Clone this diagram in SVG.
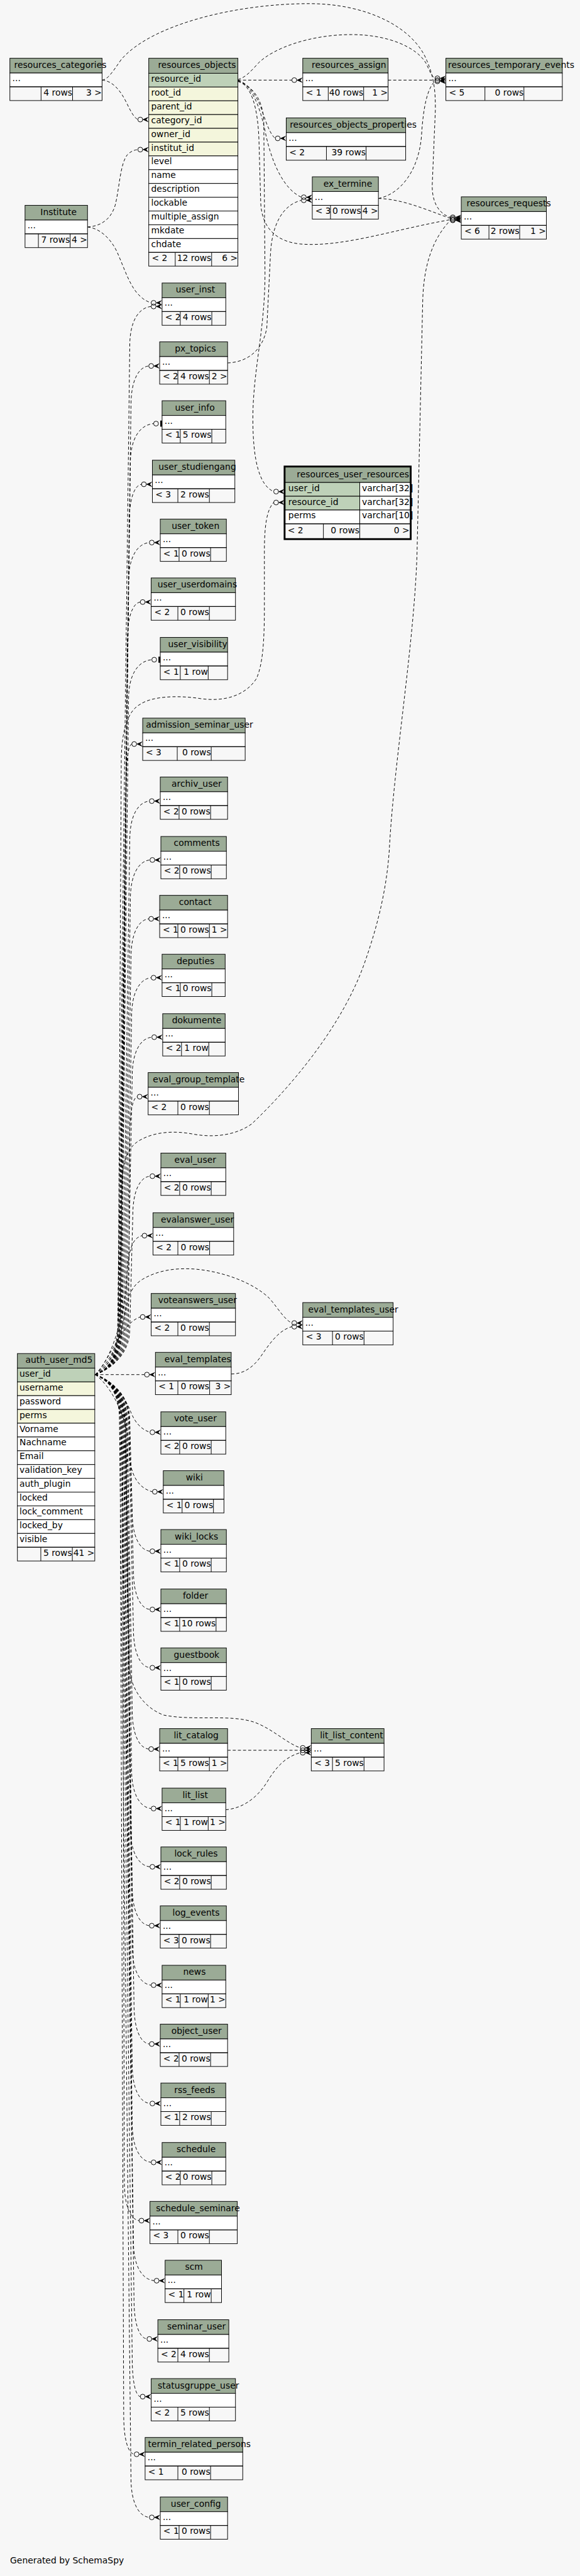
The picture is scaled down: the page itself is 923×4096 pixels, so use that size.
<svg xmlns="http://www.w3.org/2000/svg" width="923" height="4096" viewBox="0 0 923 4096">
<style>
text{font-family:"DejaVu Sans","Liberation Sans",sans-serif;font-size:14.4px;fill:#000}
.m{text-anchor:middle}.e{text-anchor:end}
.h{fill:#9bab96;stroke:#000;stroke-width:1}
.w{fill:#fff;stroke:#000;stroke-width:1}
.p{fill:#bed1b8;stroke:#000;stroke-width:1}
.k{fill:#f4f6dc;stroke:#000;stroke-width:1}
.f{fill:none;stroke:#000;stroke-width:1}
.c path{fill:none;stroke:#000;stroke-width:1;stroke-dasharray:5 3.5}
</style>
<defs>
<g id="cf"><circle cx="-14" cy="0" r="4" fill="none" stroke="#000"/><path d="M-10.5,0L0,-4.5L-4,0L0,4.5Z" fill="#000"/></g>
<g id="ct"><circle cx="-10" cy="0" r="4" fill="none" stroke="#000"/><rect x="-3" y="-5" width="3" height="10" fill="#000"/></g>
</defs>
<rect width="923" height="4096" fill="#f7f7f7"/>
<g transform="scale(0.965)">
<g id="connectors" class="c">
<path d="M168.3,132C185,133 198,148 208,168C215,182 220,193 227.3,197"/>
<path d="M168.3,132C178,131 186,118 200,98C250,40 390,6 510,6C605,6 682,45 704,100C716,128 718,150 718,180L713,300C711,330 722,352 742.7,358"/>
<path d="M144.3,374C162,373 182,365 190,338C197,310 198,270 210,255C216,249 222,247 227.3,246.5"/>
<path d="M144.3,374C164,376 182,392 193,415C205,442 214,472 230,487C237,494 243,497 249.3,499"/>
<path d="M392.3,132H481.3"/>
<path d="M640,132H717.3"/>
<path d="M392.3,131C405,128 415,116 426,104C450,80 510,57 580,57C640,57 688,78 703,105C709,118 712,126 717.3,129"/>
<path d="M392.3,133C410,136 425,160 433,185C440,205 446,222 454,228"/>
<path d="M392.3,133C412,137 428,170 438,220C448,268 468,312 497,325"/>
<path d="M375.3,598C405,597 433,580 440,540L446,420C448,372 465,338 497,330"/>
<path d="M392.3,134C414,140 425,175 427,230L430,335C432,375 455,398 495,402C565,408 650,378 742.7,362"/>
<path d="M392.3,134C415,142 433,160 435,200L437,450C437,545 417,610 417,690C417,760 428,800 451.3,810"/>
<path d="M624,327C660,320 690,282 695,225C698,175 705,145 717.3,134"/>
<path d="M624,327C662,328 700,344 742.7,360"/>
<path d="M157,2265C176,2255 196,2228 198,2180L201,1950C202,1905 215,1886 234,1877C255,1866 285,1862 320,1869C355,1875 390,1870 415,1852C470,1800 560,1700 600,1590C625,1520 638,1460 642,1400C650,1250 685,1050 688,900L697,500C698,440 712,395 742.7,363"/>
<path d="M157,2265C176,2256 193,2230 195,2180L200,1250C201,1200 212,1170 232,1160C250,1148 290,1145 330,1151C370,1157 405,1146 423,1118C433,1095 436,1060 436,1000L436,910C436,865 440,840 451.3,828"/>
<path d="M157,2265C178,2250 198,2210 205,2170C210,2135 218,2118 235,2108C260,2093 290,2089 320,2091C370,2095 420,2115 445,2140C460,2158 470,2175 481.3,2180"/>
<path d="M381.3,2264C400,2264 415,2255 428,2238C442,2218 458,2192 481.3,2186"/>
<path d="M157,2265H238.3"/>
<path d="M375.3,2884H495.3"/>
<path d="M372.3,2982C395,2980 420,2968 440,2937C455,2912 470,2895 495.3,2888"/>
<path d="M157,2265C178,2275 206,2300 207,2350L213,2745C215,2785 240,2815 270,2826C320,2836 380,2824 420,2838C450,2849 472,2872 495.3,2880"/>
<path d="M157,2265C182,2240 200,2180 231.3,2170"/>
<path d="M157,2265C185,2240 207,2160 209,2110C211,2060 218,2040 234.3,2036"/>
<path d="M157,2265C178,2258 214,2235 214,2190L219,2003C219,1963 230.3,1940 247.3,1938"/>
<path d="M157,2265C178,2258 212,2235 212,2190L214,1872C214,1832 219,1809 226.3,1807"/>
<path d="M157,2265C178,2258 210,2235 210,2190L218,1774C218,1734 230.9,1711 250.3,1709"/>
<path d="M157,2265C178,2258 208,2235 208,2190L217,1676C217,1636 229.9,1613 249.3,1611"/>
<path d="M157,2265C178,2258 206,2235 206,2190L216,1579C216,1539 227.7,1516 245.3,1514"/>
<path d="M157,2265C178,2258 204,2235 204,2190L215,1482C215,1442 227.9,1419 247.3,1417"/>
<path d="M157,2265C178,2258 202,2235 202,2190L214,1385C214,1345 226.9,1322 246.3,1320"/>
<path d="M157,2265C178,2258 201,2235 201,2190L208,1291C208,1251 211.7,1228 217.3,1226"/>
<path d="M157,2265C178,2258 200,2235 200,2190L212,1152C212,1112 227.3,1089 250.3,1087"/>
<path d="M157,2265C178,2258 199,2235 199,2190L210,1057C210,1017 218.5,994 231.3,992"/>
<path d="M157,2265C178,2258 198,2235 198,2190L212,959C212,919 225.7,896 246.3,894"/>
<path d="M157,2265C178,2258 197,2235 197,2190L213,863C213,823 221.1,800 233.3,798"/>
<path d="M157,2265C178,2258 196,2235 196,2190L215,763C215,723 230.3,700 253.3,698"/>
<path d="M157,2265C178,2258 195,2235 195,2190L216,668C216,628 227.7,605 245.3,603"/>
<path d="M157,2265C178,2258 194,2235 194,2190L214,570C214,530 228.1,507 249.3,505"/>
<path d="M157,2265C185,2275 205,2300 215,2325C222,2343 232,2355 247.3,2360"/>
<path d="M157,2265C185,2285 212,2340 213,2390C214,2430 228,2452 251.3,2458"/>
<path d="M157,2265C178,2272 214,2295 214,2340L218,2491C218,2531 229.7,2554 247.3,2556"/>
<path d="M157,2265C178,2272 213,2295 213,2340L220,2587C220,2627 230.9,2650 247.3,2652"/>
<path d="M157,2265C178,2272 212,2295 212,2340L220,2683C220,2723 230.9,2746 247.3,2748"/>
<path d="M157,2265C178,2272 210,2295 210,2340L218,2817C218,2857 228.9,2880 245.3,2882"/>
<path d="M157,2265C178,2272 209,2295 209,2340L217,2915C217,2955 229.9,2978 249.3,2980"/>
<path d="M157,2265C178,2272 208,2295 208,2340L215,3011C215,3051 227.9,3074 247.3,3076"/>
<path d="M157,2265C178,2272 207,2295 207,2340L218,3108C218,3148 229.3,3171 246.3,3173"/>
<path d="M157,2265C178,2272 206,2295 206,2340L218,3206C218,3246 230.5,3269 249.3,3271"/>
<path d="M157,2265C178,2272 205,2295 205,2340L221,3303C221,3343 231.1,3366 246.3,3368"/>
<path d="M157,2265C178,2272 204,2295 204,2340L218,3401C218,3441 229.7,3464 247.3,3466"/>
<path d="M157,2265C178,2272 203,2295 203,2340L218,3498C218,3538 230.5,3561 249.3,3563"/>
<path d="M157,2265C178,2272 202,2295 202,2340L205,3594C205,3634 214.7,3657 229.3,3659"/>
<path d="M157,2265C178,2272 201,2295 201,2340L220,3693C220,3733 233.7,3756 254.3,3758"/>
<path d="M157,2265C178,2272 200,2295 200,2340L221,3789C221,3829 229.5,3852 242.3,3854"/>
<path d="M157,2265C178,2272 199,2295 199,2340L218,3884C218,3924 223.3,3947 231.3,3949"/>
<path d="M157,2265C178,2272 198,2295 198,2340L204,3979C204,4019 210.9,4042 221.3,4044"/>
<path d="M157,2265C178,2272 197,2295 197,2340L216,4083C216,4123 228.1,4146 246.3,4148"/>
</g>

<g id="resources_categories"><rect class="h" x="16.3" y="96" width="152" height="24.3"/><rect class="w" x="16.3" y="120.3" width="152" height="22.7"/><rect class="f" x="16.3" y="143" width="152" height="22.7"/><path class="f" d="M67.7,143v22.7M119.7,143v22.7"/><text class="m" x="99.5" y="112">resources_categories</text><text x="20.3" y="133.8">...</text><text class="e" x="119.2" y="157.3">4 rows</text><text class="e" x="167.8" y="157.3">3 &gt;</text></g>

<g id="resources_objects"><rect class="h" x="245.3" y="96" width="147" height="24.7"/>
<rect class="p" x="245.3" y="120.7" width="147" height="22.7"/>
<rect class="k" x="245.3" y="143.4" width="147" height="22.7"/>
<rect class="k" x="245.3" y="166.1" width="147" height="22.7"/>
<rect class="k" x="245.3" y="188.8" width="147" height="22.7"/>
<rect class="k" x="245.3" y="211.5" width="147" height="22.7"/>
<rect class="k" x="245.3" y="234.2" width="147" height="22.7"/>
<rect class="w" x="245.3" y="256.9" width="147" height="22.7"/>
<rect class="w" x="245.3" y="279.6" width="147" height="22.7"/>
<rect class="w" x="245.3" y="302.3" width="147" height="22.7"/>
<rect class="w" x="245.3" y="325" width="147" height="22.7"/>
<rect class="w" x="245.3" y="347.7" width="147" height="22.7"/>
<rect class="w" x="245.3" y="370.4" width="147" height="22.7"/>
<rect class="w" x="245.3" y="393.1" width="147" height="22.7"/>
<rect class="f" x="245.3" y="415.8" width="147" height="22.7"/><path class="f" d="M289,415.8v22.7M349,415.8v22.7"/>
<text class="m" x="324.9" y="112">resources_objects</text>
<text x="249.3" y="134.7">resource_id</text><text x="249.3" y="157.4">root_id</text><text x="249.3" y="180.1">parent_id</text><text x="249.3" y="202.8">category_id</text><text x="249.3" y="225.5">owner_id</text><text x="249.3" y="248.2">institut_id</text><text x="249.3" y="270.9">level</text><text x="249.3" y="293.6">name</text><text x="249.3" y="316.3">description</text><text x="249.3" y="339">lockable</text><text x="249.3" y="361.7">multiple_assign</text><text x="249.3" y="384.4">mkdate</text><text x="249.3" y="407.1">chdate</text>
<text x="250.3" y="430.1">&lt; 2</text><text class="e" x="348.5" y="430.1">12 rows</text><text class="e" x="391.8" y="430.1">6 &gt;</text></g>

<g id="Institute"><rect class="h" x="41.3" y="338.3" width="103" height="24.3"/><rect class="w" x="41.3" y="362.6" width="103" height="22.7"/><rect class="f" x="41.3" y="385.3" width="103" height="22.7"/><path class="f" d="M63.3,385.3v22.7M115.7,385.3v22.7"/><text class="m" x="96.5" y="354.3">Institute</text><text x="45.3" y="376.1">...</text><text class="e" x="115.2" y="399.6">7 rows</text><text class="e" x="143.8" y="399.6">4 &gt;</text></g>

<g id="resources_assign"><rect class="h" x="499.3" y="96" width="140.7" height="24.3"/><rect class="w" x="499.3" y="120.3" width="140.7" height="22.7"/><rect class="f" x="499.3" y="143" width="140.7" height="22.7"/><path class="f" d="M541.3,143v22.7M599.7,143v22.7"/><text class="m" x="575.5" y="112">resources_assign</text><text x="503.3" y="133.8">...</text><text x="504.3" y="157.3">&lt; 1</text><text class="e" x="599.2" y="157.3">40 rows</text><text class="e" x="639.5" y="157.3">1 &gt;</text></g>

<g id="resources_temporary_events"><rect class="h" x="735.3" y="96" width="192" height="24.3"/><rect class="w" x="735.3" y="120.3" width="192" height="22.7"/><rect class="f" x="735.3" y="143" width="192" height="22.7"/><path class="f" d="M799.7,143v22.7M864,143v22.7"/><text class="m" x="843" y="112">resources_temporary_events</text><text x="739.3" y="133.8">...</text><text x="740.3" y="157.3">&lt; 5</text><text class="e" x="863.5" y="157.3">0 rows</text></g>

<g id="resources_objects_properties"><rect class="h" x="472" y="194.3" width="197" height="24.3"/><rect class="w" x="472" y="218.6" width="197" height="22.7"/><rect class="f" x="472" y="241.3" width="197" height="22.7"/><path class="f" d="M538.3,241.3v22.7M603.7,241.3v22.7"/><text class="m" x="582.5" y="210.3">resources_objects_properties</text><text x="476" y="232.1">...</text><text x="477" y="255.6">&lt; 2</text><text class="e" x="603.2" y="255.6">39 rows</text></g>

<g id="ex_termine"><rect class="h" x="515" y="291.3" width="109" height="24.3"/><rect class="w" x="515" y="315.6" width="109" height="22.7"/><rect class="f" x="515" y="338.3" width="109" height="22.7"/><path class="f" d="M545,338.3v22.7M596,338.3v22.7"/><text class="m" x="573.5" y="307.3">ex_termine</text><text x="519" y="329.1">...</text><text x="520" y="352.6">&lt; 3</text><text class="e" x="595.5" y="352.6">0 rows</text><text class="e" x="623.5" y="352.6">4 &gt;</text></g>

<g id="resources_requests"><rect class="h" x="760.7" y="324.3" width="140.3" height="24.3"/><rect class="w" x="760.7" y="348.6" width="140.3" height="22.7"/><rect class="f" x="760.7" y="371.3" width="140.3" height="22.7"/><path class="f" d="M806.3,371.3v22.7M857,371.3v22.7"/><text class="m" x="839" y="340.3">resources_requests</text><text x="764.7" y="362.1">...</text><text x="765.7" y="385.6">&lt; 6</text><text class="e" x="856.5" y="385.6">2 rows</text><text class="e" x="900.5" y="385.6">1 &gt;</text></g>

<g id="user_inst"><rect class="h" x="267.3" y="466.3" width="105" height="24.3"/><rect class="w" x="267.3" y="490.6" width="105" height="22.7"/><rect class="f" x="267.3" y="513.3" width="105" height="22.7"/><path class="f" d="M297.3,513.3v22.7M349.3,513.3v22.7"/><text class="m" x="322.2" y="482.3">user_inst</text><text x="271.3" y="504.1">...</text><text x="272.3" y="527.6">&lt; 2</text><text class="e" x="348.8" y="527.6">4 rows</text></g>

<g id="px_topics"><rect class="h" x="263.3" y="563.3" width="112" height="24.3"/><rect class="w" x="263.3" y="587.6" width="112" height="22.7"/><rect class="f" x="263.3" y="610.3" width="112" height="22.7"/><path class="f" d="M293.3,610.3v22.7M345.3,610.3v22.7"/><text class="m" x="322.2" y="579.3">px_topics</text><text x="267.3" y="601.1">...</text><text x="268.3" y="624.6">&lt; 2</text><text class="e" x="344.8" y="624.6">4 rows</text><text class="e" x="374.8" y="624.6">2 &gt;</text></g>

<g id="user_info"><rect class="h" x="267.3" y="660.3" width="105" height="24.3"/><rect class="w" x="267.3" y="684.6" width="105" height="22.7"/><rect class="f" x="267.3" y="707.3" width="105" height="22.7"/><path class="f" d="M297.3,707.3v22.7M349.3,707.3v22.7"/><text class="m" x="321.3" y="676.3">user_info</text><text x="271.3" y="698.1">...</text><text x="272.3" y="721.6">&lt; 1</text><text class="e" x="348.8" y="721.6">5 rows</text></g>

<g id="user_studiengang"><rect class="h" x="251.3" y="758.3" width="136" height="24.3"/><rect class="w" x="251.3" y="782.6" width="136" height="22.7"/><rect class="f" x="251.3" y="805.3" width="136" height="22.7"/><path class="f" d="M293.3,805.3v22.7M345.3,805.3v22.7"/><text class="m" x="325.3" y="774.3">user_studiengang</text><text x="255.3" y="796.1">...</text><text x="256.3" y="819.6">&lt; 3</text><text class="e" x="344.8" y="819.6">2 rows</text></g>

<g id="user_token"><rect class="h" x="264.3" y="855.3" width="109" height="24.3"/><rect class="w" x="264.3" y="879.6" width="109" height="22.7"/><rect class="f" x="264.3" y="902.3" width="109" height="22.7"/><path class="f" d="M295.3,902.3v22.7M347.3,902.3v22.7"/><text class="m" x="322.5" y="871.3">user_token</text><text x="268.3" y="893.1">...</text><text x="269.3" y="916.6">&lt; 1</text><text class="e" x="346.8" y="916.6">0 rows</text></g>

<g id="user_userdomains"><rect class="h" x="249.3" y="952.3" width="139" height="24.3"/><rect class="w" x="249.3" y="976.6" width="139" height="22.7"/><rect class="f" x="249.3" y="999.3" width="139" height="22.7"/><path class="f" d="M293.3,999.3v22.7M345.3,999.3v22.7"/><text class="m" x="325.3" y="968.3">user_userdomains</text><text x="253.3" y="990.1">...</text><text x="254.3" y="1013.6">&lt; 2</text><text class="e" x="344.8" y="1013.6">0 rows</text></g>

<g id="user_visibility"><rect class="h" x="264.3" y="1050.3" width="111" height="24.3"/><rect class="w" x="264.3" y="1074.6" width="111" height="22.7"/><rect class="f" x="264.3" y="1097.3" width="111" height="22.7"/><path class="f" d="M297.3,1097.3v22.7M343.3,1097.3v22.7"/><text class="m" x="326" y="1066.3">user_visibility</text><text x="268.3" y="1088.1">...</text><text x="269.3" y="1111.6">&lt; 1</text><text class="e" x="342.8" y="1111.6">1 row</text></g>

<g id="admission_seminar_user"><rect class="h" x="235.3" y="1183.3" width="169" height="24.3"/><rect class="w" x="235.3" y="1207.6" width="169" height="22.7"/><rect class="f" x="235.3" y="1230.3" width="169" height="22.7"/><path class="f" d="M292.3,1230.3v22.7M348.3,1230.3v22.7"/><text class="m" x="329" y="1199.3">admission_seminar_user</text><text x="239.3" y="1221.1">...</text><text x="240.3" y="1244.6">&lt; 3</text><text class="e" x="347.8" y="1244.6">0 rows</text></g>

<g id="archiv_user"><rect class="h" x="264.3" y="1280.3" width="111" height="24.3"/><rect class="w" x="264.3" y="1304.6" width="111" height="22.7"/><rect class="f" x="264.3" y="1327.3" width="111" height="22.7"/><path class="f" d="M295.3,1327.3v22.7M347.3,1327.3v22.7"/><text class="m" x="324.2" y="1296.3">archiv_user</text><text x="268.3" y="1318.1">...</text><text x="269.3" y="1341.6">&lt; 2</text><text class="e" x="346.8" y="1341.6">0 rows</text></g>

<g id="comments"><rect class="h" x="265.3" y="1378.3" width="108" height="24.3"/><rect class="w" x="265.3" y="1402.6" width="108" height="22.7"/><rect class="f" x="265.3" y="1425.3" width="108" height="22.7"/><path class="f" d="M296.3,1425.3v22.7M348.3,1425.3v22.7"/><text class="m" x="324.5" y="1394.3">comments</text><text x="269.3" y="1416.1">...</text><text x="270.3" y="1439.6">&lt; 2</text><text class="e" x="347.8" y="1439.6">0 rows</text></g>

<g id="contact"><rect class="h" x="263.3" y="1475.3" width="112" height="24.3"/><rect class="w" x="263.3" y="1499.6" width="112" height="22.7"/><rect class="f" x="263.3" y="1522.3" width="112" height="22.7"/><path class="f" d="M293.3,1522.3v22.7M345.3,1522.3v22.7"/><text class="m" x="322" y="1491.3">contact</text><text x="267.3" y="1513.1">...</text><text x="268.3" y="1536.6">&lt; 1</text><text class="e" x="344.8" y="1536.6">0 rows</text><text class="e" x="374.8" y="1536.6">1 &gt;</text></g>

<g id="deputies"><rect class="h" x="267.3" y="1572.3" width="104" height="24.3"/><rect class="w" x="267.3" y="1596.6" width="104" height="22.7"/><rect class="f" x="267.3" y="1619.3" width="104" height="22.7"/><path class="f" d="M297.3,1619.3v22.7M349.3,1619.3v22.7"/><text class="m" x="322.5" y="1588.3">deputies</text><text x="271.3" y="1610.1">...</text><text x="272.3" y="1633.6">&lt; 1</text><text class="e" x="348.8" y="1633.6">0 rows</text></g>

<g id="dokumente"><rect class="h" x="268.3" y="1670.3" width="103" height="24.3"/><rect class="w" x="268.3" y="1694.6" width="103" height="22.7"/><rect class="f" x="268.3" y="1717.3" width="103" height="22.7"/><path class="f" d="M299.3,1717.3v22.7M344.3,1717.3v22.7"/><text class="m" x="324.3" y="1686.3">dokumente</text><text x="272.3" y="1708.1">...</text><text x="273.3" y="1731.6">&lt; 2</text><text class="e" x="343.8" y="1731.6">1 row</text></g>

<g id="eval_group_template"><rect class="h" x="244.3" y="1767.3" width="149" height="24.3"/><rect class="w" x="244.3" y="1791.6" width="149" height="22.7"/><rect class="f" x="244.3" y="1814.3" width="149" height="22.7"/><path class="f" d="M293.3,1814.3v22.7M345.3,1814.3v22.7"/><text class="m" x="327.8" y="1783.3">eval_group_template</text><text x="248.3" y="1805.1">...</text><text x="249.3" y="1828.6">&lt; 2</text><text class="e" x="344.8" y="1828.6">0 rows</text></g>

<g id="eval_user"><rect class="h" x="265.3" y="1900" width="107" height="24.3"/><rect class="w" x="265.3" y="1924.3" width="107" height="22.7"/><rect class="f" x="265.3" y="1947" width="107" height="22.7"/><path class="f" d="M296.3,1947v22.7M348.3,1947v22.7"/><text class="m" x="322" y="1916">eval_user</text><text x="269.3" y="1937.8">...</text><text x="270.3" y="1961.3">&lt; 2</text><text class="e" x="347.8" y="1961.3">0 rows</text></g>

<g id="evalanswer_user"><rect class="h" x="252.3" y="1998.3" width="133" height="24.3"/><rect class="w" x="252.3" y="2022.6" width="133" height="22.7"/><rect class="f" x="252.3" y="2045.3" width="133" height="22.7"/><path class="f" d="M293.3,2045.3v22.7M345.7,2045.3v22.7"/><text class="m" x="325.5" y="2014.3">evalanswer_user</text><text x="256.3" y="2036.1">...</text><text x="257.3" y="2059.6">&lt; 2</text><text class="e" x="345.2" y="2059.6">0 rows</text></g>

<g id="voteanswers_user"><rect class="h" x="249.3" y="2131.3" width="139" height="24.3"/><rect class="w" x="249.3" y="2155.6" width="139" height="22.7"/><rect class="f" x="249.3" y="2178.3" width="139" height="22.7"/><path class="f" d="M293.3,2178.3v22.7M345.3,2178.3v22.7"/><text class="m" x="325.8" y="2147.3">voteanswers_user</text><text x="253.3" y="2169.1">...</text><text x="254.3" y="2192.6">&lt; 2</text><text class="e" x="344.8" y="2192.6">0 rows</text></g>

<g id="eval_templates"><rect class="h" x="256.3" y="2228.3" width="125" height="24.3"/><rect class="w" x="256.3" y="2252.6" width="125" height="22.7"/><rect class="f" x="256.3" y="2275.3" width="125" height="22.7"/><path class="f" d="M293.3,2275.3v22.7M345.7,2275.3v22.7"/><text class="m" x="326.2" y="2244.3">eval_templates</text><text x="260.3" y="2266.1">...</text><text x="261.3" y="2289.6">&lt; 1</text><text class="e" x="345.2" y="2289.6">0 rows</text><text class="e" x="380.8" y="2289.6">3 &gt;</text></g>

<g id="eval_templates_user"><rect class="h" x="499.3" y="2146.3" width="149" height="24.3"/><rect class="w" x="499.3" y="2170.6" width="149" height="22.7"/><rect class="f" x="499.3" y="2193.3" width="149" height="22.7"/><path class="f" d="M548.3,2193.3v22.7M600.3,2193.3v22.7"/><text class="m" x="582.5" y="2162.3">eval_templates_user</text><text x="503.3" y="2184.1">...</text><text x="504.3" y="2207.6">&lt; 3</text><text class="e" x="599.8" y="2207.6">0 rows</text></g>

<g id="vote_user"><rect class="h" x="265.3" y="2326.3" width="107" height="24.3"/><rect class="w" x="265.3" y="2350.6" width="107" height="22.7"/><rect class="f" x="265.3" y="2373.3" width="107" height="22.7"/><path class="f" d="M296.3,2373.3v22.7M348.3,2373.3v22.7"/><text class="m" x="322.2" y="2342.3">vote_user</text><text x="269.3" y="2364.1">...</text><text x="270.3" y="2387.6">&lt; 2</text><text class="e" x="347.8" y="2387.6">0 rows</text></g>

<g id="wiki"><rect class="h" x="269.3" y="2423.3" width="100" height="24.3"/><rect class="w" x="269.3" y="2447.6" width="100" height="22.7"/><rect class="f" x="269.3" y="2470.3" width="100" height="22.7"/><path class="f" d="M300.3,2470.3v22.7M352,2470.3v22.7"/><text class="m" x="320.5" y="2439.3">wiki</text><text x="273.3" y="2461.1">...</text><text x="274.3" y="2484.6">&lt; 1</text><text class="e" x="351.5" y="2484.6">0 rows</text></g>

<g id="wiki_locks"><rect class="h" x="265.3" y="2520.3" width="108" height="24.3"/><rect class="w" x="265.3" y="2544.6" width="108" height="22.7"/><rect class="f" x="265.3" y="2567.3" width="108" height="22.7"/><path class="f" d="M296.3,2567.3v22.7M348.3,2567.3v22.7"/><text class="m" x="324" y="2536.3">wiki_locks</text><text x="269.3" y="2558.1">...</text><text x="270.3" y="2581.6">&lt; 1</text><text class="e" x="347.8" y="2581.6">0 rows</text></g>

<g id="folder"><rect class="h" x="265.3" y="2618.3" width="108" height="24.3"/><rect class="w" x="265.3" y="2642.6" width="108" height="22.7"/><rect class="f" x="265.3" y="2665.3" width="108" height="22.7"/><path class="f" d="M296.3,2665.3v22.7M356.3,2665.3v22.7"/><text class="m" x="322.3" y="2634.3">folder</text><text x="269.3" y="2656.1">...</text><text x="270.3" y="2679.6">&lt; 1</text><text class="e" x="355.8" y="2679.6">10 rows</text></g>

<g id="guestbook"><rect class="h" x="265.3" y="2715.3" width="108" height="24.3"/><rect class="w" x="265.3" y="2739.6" width="108" height="22.7"/><rect class="f" x="265.3" y="2762.3" width="108" height="22.7"/><path class="f" d="M296.3,2762.3v22.7M348.3,2762.3v22.7"/><text class="m" x="324.2" y="2731.3">guestbook</text><text x="269.3" y="2753.1">...</text><text x="270.3" y="2776.6">&lt; 1</text><text class="e" x="347.8" y="2776.6">0 rows</text></g>

<g id="lit_catalog"><rect class="h" x="263.3" y="2848.3" width="112" height="24.3"/><rect class="w" x="263.3" y="2872.6" width="112" height="22.7"/><rect class="f" x="263.3" y="2895.3" width="112" height="22.7"/><path class="f" d="M293.3,2895.3v22.7M345.3,2895.3v22.7"/><text class="m" x="323.5" y="2864.3">lit_catalog</text><text x="267.3" y="2886.1">...</text><text x="268.3" y="2909.6">&lt; 1</text><text class="e" x="344.8" y="2909.6">5 rows</text><text class="e" x="374.8" y="2909.6">1 &gt;</text></g>

<g id="lit_list_content"><rect class="h" x="513.3" y="2848.3" width="120" height="24.3"/><rect class="w" x="513.3" y="2872.6" width="120" height="22.7"/><rect class="f" x="513.3" y="2895.3" width="120" height="22.7"/><path class="f" d="M548.3,2895.3v22.7M600.3,2895.3v22.7"/><text class="m" x="579.8" y="2864.3">lit_list_content</text><text x="517.3" y="2886.1">...</text><text x="518.3" y="2909.6">&lt; 3</text><text class="e" x="599.8" y="2909.6">5 rows</text></g>

<g id="lit_list"><rect class="h" x="267.3" y="2946.3" width="105" height="24.3"/><rect class="w" x="267.3" y="2970.6" width="105" height="22.7"/><rect class="f" x="267.3" y="2993.3" width="105" height="22.7"/><path class="f" d="M297.3,2993.3v22.7M343.3,2993.3v22.7"/><text class="m" x="322" y="2962.3">lit_list</text><text x="271.3" y="2984.1">...</text><text x="272.3" y="3007.6">&lt; 1</text><text class="e" x="342.8" y="3007.6">1 row</text><text class="e" x="371.8" y="3007.6">1 &gt;</text></g>

<g id="lock_rules"><rect class="h" x="265.3" y="3043.3" width="108" height="24.3"/><rect class="w" x="265.3" y="3067.6" width="108" height="22.7"/><rect class="f" x="265.3" y="3090.3" width="108" height="22.7"/><path class="f" d="M296.3,3090.3v22.7M348.3,3090.3v22.7"/><text class="m" x="323.3" y="3059.3">lock_rules</text><text x="269.3" y="3081.1">...</text><text x="270.3" y="3104.6">&lt; 2</text><text class="e" x="347.8" y="3104.6">0 rows</text></g>

<g id="log_events"><rect class="h" x="264.3" y="3140.3" width="109" height="24.3"/><rect class="w" x="264.3" y="3164.6" width="109" height="22.7"/><rect class="f" x="264.3" y="3187.3" width="109" height="22.7"/><path class="f" d="M295.3,3187.3v22.7M347.3,3187.3v22.7"/><text class="m" x="323.3" y="3156.3">log_events</text><text x="268.3" y="3178.1">...</text><text x="269.3" y="3201.6">&lt; 3</text><text class="e" x="346.8" y="3201.6">0 rows</text></g>

<g id="news"><rect class="h" x="267.3" y="3238.3" width="105" height="24.3"/><rect class="w" x="267.3" y="3262.6" width="105" height="22.7"/><rect class="f" x="267.3" y="3285.3" width="105" height="22.7"/><path class="f" d="M297.3,3285.3v22.7M343.3,3285.3v22.7"/><text class="m" x="320.7" y="3254.3">news</text><text x="271.3" y="3276.1">...</text><text x="272.3" y="3299.6">&lt; 1</text><text class="e" x="342.8" y="3299.6">1 row</text><text class="e" x="371.8" y="3299.6">1 &gt;</text></g>

<g id="object_user"><rect class="h" x="264.3" y="3335.3" width="111" height="24.3"/><rect class="w" x="264.3" y="3359.6" width="111" height="22.7"/><rect class="f" x="264.3" y="3382.3" width="111" height="22.7"/><path class="f" d="M295.3,3382.3v22.7M347.3,3382.3v22.7"/><text class="m" x="324" y="3351.3">object_user</text><text x="268.3" y="3373.1">...</text><text x="269.3" y="3396.6">&lt; 2</text><text class="e" x="346.8" y="3396.6">0 rows</text></g>

<g id="rss_feeds"><rect class="h" x="265.3" y="3432.3" width="107" height="24.3"/><rect class="w" x="265.3" y="3456.6" width="107" height="22.7"/><rect class="f" x="265.3" y="3479.3" width="107" height="22.7"/><path class="f" d="M296.3,3479.3v22.7M348.3,3479.3v22.7"/><text class="m" x="321" y="3448.3">rss_feeds</text><text x="269.3" y="3470.1">...</text><text x="270.3" y="3493.6">&lt; 1</text><text class="e" x="347.8" y="3493.6">2 rows</text></g>

<g id="schedule"><rect class="h" x="267.3" y="3530.3" width="105" height="24.3"/><rect class="w" x="267.3" y="3554.6" width="105" height="22.7"/><rect class="f" x="267.3" y="3577.3" width="105" height="22.7"/><path class="f" d="M297.3,3577.3v22.7M349.3,3577.3v22.7"/><text class="m" x="323.5" y="3546.3">schedule</text><text x="271.3" y="3568.1">...</text><text x="272.3" y="3591.6">&lt; 2</text><text class="e" x="348.8" y="3591.6">0 rows</text></g>

<g id="schedule_seminare"><rect class="h" x="247.3" y="3627.3" width="144" height="24.3"/><rect class="w" x="247.3" y="3651.6" width="144" height="22.7"/><rect class="f" x="247.3" y="3674.3" width="144" height="22.7"/><path class="f" d="M293.3,3674.3v22.7M345.3,3674.3v22.7"/><text class="m" x="326.5" y="3643.3">schedule_seminare</text><text x="251.3" y="3665.1">...</text><text x="252.3" y="3688.6">&lt; 3</text><text class="e" x="344.8" y="3688.6">0 rows</text></g>

<g id="scm"><rect class="h" x="272.3" y="3724.3" width="93" height="24.3"/><rect class="w" x="272.3" y="3748.6" width="93" height="22.7"/><rect class="f" x="272.3" y="3771.3" width="93" height="22.7"/><path class="f" d="M303.3,3771.3v22.7M348.3,3771.3v22.7"/><text class="m" x="319.8" y="3740.3">scm</text><text x="276.3" y="3762.1">...</text><text x="277.3" y="3785.6">&lt; 1</text><text class="e" x="347.8" y="3785.6">1 row</text></g>

<g id="seminar_user"><rect class="h" x="260.3" y="3822.3" width="117" height="24.3"/><rect class="w" x="260.3" y="3846.6" width="117" height="22.7"/><rect class="f" x="260.3" y="3869.3" width="117" height="22.7"/><path class="f" d="M293.3,3869.3v22.7M345.3,3869.3v22.7"/><text class="m" x="324" y="3838.3">seminar_user</text><text x="264.3" y="3860.1">...</text><text x="265.3" y="3883.6">&lt; 2</text><text class="e" x="344.8" y="3883.6">4 rows</text></g>

<g id="statusgruppe_user"><rect class="h" x="249.3" y="3919.3" width="139" height="24.3"/><rect class="w" x="249.3" y="3943.6" width="139" height="22.7"/><rect class="f" x="249.3" y="3966.3" width="139" height="22.7"/><path class="f" d="M293.3,3966.3v22.7M345.3,3966.3v22.7"/><text class="m" x="327.2" y="3935.3">statusgruppe_user</text><text x="253.3" y="3957.1">...</text><text x="254.3" y="3980.6">&lt; 2</text><text class="e" x="344.8" y="3980.6">5 rows</text></g>

<g id="termin_related_persons"><rect class="h" x="239.3" y="4016.3" width="161" height="24.3"/><rect class="w" x="239.3" y="4040.6" width="161" height="22.7"/><rect class="f" x="239.3" y="4063.3" width="161" height="22.7"/><path class="f" d="M293.3,4063.3v22.7M347.3,4063.3v22.7"/><text class="m" x="328.8" y="4032.3">termin_related_persons</text><text x="243.3" y="4054.1">...</text><text x="244.3" y="4077.6">&lt; 1</text><text class="e" x="346.8" y="4077.6">0 rows</text></g>

<g id="user_config"><rect class="h" x="264.3" y="4114.3" width="111" height="24.3"/><rect class="w" x="264.3" y="4138.6" width="111" height="22.7"/><rect class="f" x="264.3" y="4161.3" width="111" height="22.7"/><path class="f" d="M295.3,4161.3v22.7M347.3,4161.3v22.7"/><text class="m" x="323" y="4130.3">user_config</text><text x="268.3" y="4152.1">...</text><text x="269.3" y="4175.6">&lt; 1</text><text class="e" x="346.8" y="4175.6">0 rows</text></g>

<g id="resources_user_resources"><rect class="h" x="469.3" y="768.7" width="208" height="26.3"/>
<rect class="p" x="469.3" y="795" width="124" height="22.7"/><rect class="w" x="593.3" y="795" width="84" height="22.7"/>
<rect class="p" x="469.3" y="817.7" width="124" height="22.7"/><rect class="w" x="593.3" y="817.7" width="84" height="22.7"/>
<rect class="w" x="469.3" y="840.4" width="124" height="22.7"/><rect class="w" x="593.3" y="840.4" width="84" height="22.7"/>
<rect class="f" x="469.3" y="863.1" width="208" height="25.2"/><path class="f" d="M533.3,863.1v25.2M593.3,863.1v25.2"/>
<text class="m" x="582" y="786.5">resources_user_resources</text>
<text x="475.5" y="809">user_id</text><text x="597" y="809">varchar[32]</text>
<text x="475.5" y="831.7">resource_id</text><text x="597" y="831.7">varchar[32]</text>
<text x="475.5" y="854.4">perms</text><text x="597" y="854.4">varchar[10]</text>
<text x="474.3" y="878.5">&lt; 2</text><text class="e" x="592.8" y="878.5">0 rows</text><text class="e" x="675.3" y="878.5">0 &gt;</text>
<rect x="469.3" y="768.7" width="208" height="119.6" fill="none" stroke="#000" stroke-width="3"/></g>

<g id="auth_user_md5"><rect class="h" x="28.7" y="2230.3" width="127.6" height="24"/>
<rect class="p" x="28.7" y="2254.3" width="127.6" height="22.7"/>
<rect class="k" x="28.7" y="2277" width="127.6" height="22.7"/>
<rect class="w" x="28.7" y="2299.7" width="127.6" height="22.7"/>
<rect class="k" x="28.7" y="2322.4" width="127.6" height="22.7"/>
<rect class="w" x="28.7" y="2345.1" width="127.6" height="22.7"/>
<rect class="w" x="28.7" y="2367.8" width="127.6" height="22.7"/>
<rect class="w" x="28.7" y="2390.5" width="127.6" height="22.7"/>
<rect class="w" x="28.7" y="2413.2" width="127.6" height="22.7"/>
<rect class="w" x="28.7" y="2435.9" width="127.6" height="22.7"/>
<rect class="w" x="28.7" y="2458.6" width="127.6" height="22.7"/>
<rect class="w" x="28.7" y="2481.3" width="127.6" height="22.7"/>
<rect class="w" x="28.7" y="2504" width="127.6" height="22.7"/>
<rect class="w" x="28.7" y="2526.7" width="127.6" height="22.7"/>
<rect class="f" x="28.7" y="2549.4" width="127.6" height="22.7"/><path class="f" d="M67.3,2549.4v22.7M119.3,2549.4v22.7"/>
<text class="m" x="97.3" y="2246">auth_user_md5</text>
<text x="32.2" y="2268.3">user_id</text><text x="32.2" y="2291">username</text><text x="32.2" y="2313.7">password</text><text x="32.2" y="2336.4">perms</text><text x="32.2" y="2359.1">Vorname</text><text x="32.2" y="2381.8">Nachname</text><text x="32.2" y="2404.5">Email</text><text x="32.2" y="2427.2">validation_key</text><text x="32.2" y="2449.9">auth_plugin</text><text x="32.2" y="2472.6">locked</text><text x="32.2" y="2495.3">lock_comment</text><text x="32.2" y="2518">locked_by</text><text x="32.2" y="2540.7">visible</text>
<text class="e" x="118.8" y="2563.7">5 rows</text><text class="e" x="155.8" y="2563.7">41 &gt;</text></g>

<g id="ends">
<use href="#cf" x="245.3" y="197"/><use href="#cf" x="245.3" y="246.5"/>
<use href="#cf" x="499.3" y="132"/>
<use href="#cf" x="735.3" y="129"/><use href="#cf" x="735.3" y="132"/><use href="#cf" x="735.3" y="134"/>
<use href="#cf" x="472" y="228"/>
<use href="#cf" x="515" y="325"/><use href="#cf" x="515" y="330"/>
<use href="#cf" x="760.7" y="358"/><use href="#cf" x="760.7" y="360"/><use href="#cf" x="760.7" y="362"/><use href="#cf" x="760.7" y="363"/>
<use href="#cf" x="267.3" y="499"/><use href="#cf" x="267.3" y="505"/>
<use href="#cf" x="263.3" y="603"/>
<use href="#ct" x="267.3" y="698"/>
<use href="#cf" x="251.3" y="798"/>
<use href="#cf" x="264.3" y="894"/>
<use href="#cf" x="249.3" y="992"/>
<use href="#ct" x="264.3" y="1087"/>
<use href="#cf" x="235.3" y="1226"/>
<use href="#cf" x="264.3" y="1320"/>
<use href="#cf" x="265.3" y="1417"/>
<use href="#cf" x="263.3" y="1514"/>
<use href="#cf" x="267.3" y="1611"/>
<use href="#cf" x="268.3" y="1709"/>
<use href="#cf" x="244.3" y="1807"/>
<use href="#cf" x="265.3" y="1938"/>
<use href="#cf" x="252.3" y="2036"/>
<use href="#cf" x="249.3" y="2170"/>
<use href="#cf" x="256.3" y="2265"/>
<use href="#cf" x="499.3" y="2180"/><use href="#cf" x="499.3" y="2186"/>
<use href="#cf" x="265.3" y="2360"/>
<use href="#cf" x="269.3" y="2458"/>
<use href="#cf" x="265.3" y="2556"/>
<use href="#cf" x="265.3" y="2652"/>
<use href="#cf" x="265.3" y="2748"/>
<use href="#cf" x="263.3" y="2882"/>
<use href="#cf" x="513.3" y="2880"/><use href="#cf" x="513.3" y="2884"/><use href="#cf" x="513.3" y="2888"/>
<use href="#cf" x="267.3" y="2980"/>
<use href="#cf" x="265.3" y="3076"/>
<use href="#cf" x="264.3" y="3173"/>
<use href="#cf" x="267.3" y="3271"/>
<use href="#cf" x="264.3" y="3368"/>
<use href="#cf" x="265.3" y="3466"/>
<use href="#cf" x="267.3" y="3563"/>
<use href="#cf" x="247.3" y="3659"/>
<use href="#cf" x="272.3" y="3758"/>
<use href="#cf" x="260.3" y="3854"/>
<use href="#cf" x="249.3" y="3949"/>
<use href="#cf" x="239.3" y="4044"/>
<use href="#cf" x="264.3" y="4148"/>
<use href="#cf" x="469.3" y="810"/><use href="#cf" x="469.3" y="828"/>
</g>
<text x="16.7" y="4224">Generated by SchemaSpy</text>
</g>
</svg>
